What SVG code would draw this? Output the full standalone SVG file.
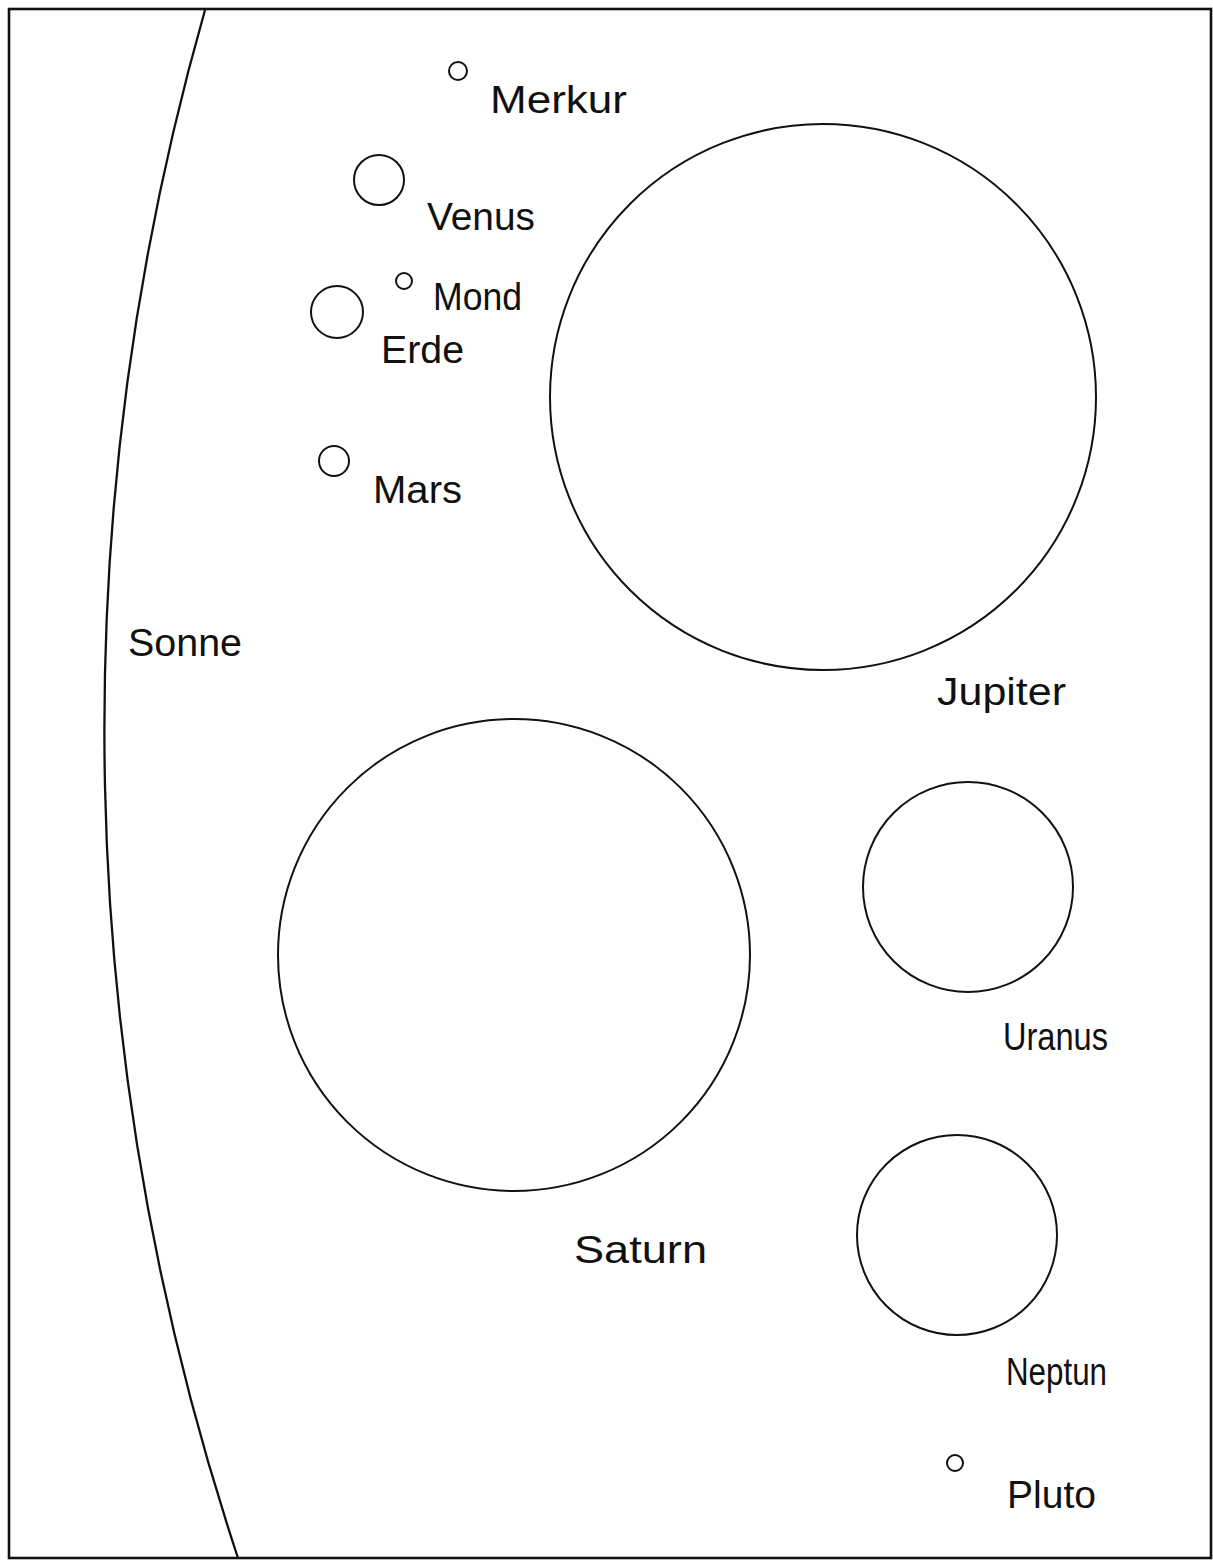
<svg xmlns="http://www.w3.org/2000/svg" width="1213" height="1560" viewBox="0 0 1213 1560">
<style>
.b{fill:none;stroke:#111;stroke-width:2.6}
.p{fill:none;stroke:#111;stroke-width:2}
.s{fill:none;stroke:#111;stroke-width:2.3}
text{font-family:"Liberation Sans",Arial,sans-serif;font-size:38px;fill:#111}
</style>
<rect x="0" y="0" width="1213" height="1560" fill="#fff"/>
<rect class="b" x="9" y="9" width="1202" height="1549"/>
<g id="sonne">
<path class="s" d="M205,10 A2630,2630 0 0 0 238,1558"/>
<text x="128" y="656" textLength="114" lengthAdjust="spacingAndGlyphs">Sonne</text>
</g>
<g id="merkur">
<circle class="p" cx="458" cy="71" r="9"/>
<text x="490" y="113" textLength="137" lengthAdjust="spacingAndGlyphs">Merkur</text>
</g>
<g id="venus">
<circle class="p" cx="379" cy="180" r="25"/>
<text x="427" y="230" textLength="108" lengthAdjust="spacingAndGlyphs">Venus</text>
</g>
<g id="mond">
<circle class="p" cx="404" cy="281" r="8"/>
<text x="433" y="310" textLength="89" lengthAdjust="spacingAndGlyphs">Mond</text>
</g>
<g id="erde">
<circle class="p" cx="337" cy="312" r="26"/>
<text x="381" y="363" textLength="83" lengthAdjust="spacingAndGlyphs">Erde</text>
</g>
<g id="mars">
<circle class="p" cx="334" cy="461" r="15"/>
<text x="373" y="503" textLength="89" lengthAdjust="spacingAndGlyphs">Mars</text>
</g>
<g id="jupiter">
<circle class="p" cx="823" cy="397" r="273"/>
<text x="937" y="705" textLength="129" lengthAdjust="spacingAndGlyphs">Jupiter</text>
</g>
<g id="saturn">
<circle class="p" cx="514" cy="955" r="236"/>
<text x="574" y="1263" textLength="133" lengthAdjust="spacingAndGlyphs">Saturn</text>
</g>
<g id="uranus">
<circle class="p" cx="968" cy="887" r="105"/>
<text x="1003" y="1050" textLength="105" lengthAdjust="spacingAndGlyphs">Uranus</text>
</g>
<g id="neptun">
<circle class="p" cx="957" cy="1235" r="100"/>
<text x="1006" y="1385" textLength="101" lengthAdjust="spacingAndGlyphs">Neptun</text>
</g>
<g id="pluto">
<circle class="p" cx="955" cy="1463" r="8"/>
<text x="1007" y="1508" textLength="89" lengthAdjust="spacingAndGlyphs">Pluto</text>
</g>
<g id="connectors"/>
</svg>
